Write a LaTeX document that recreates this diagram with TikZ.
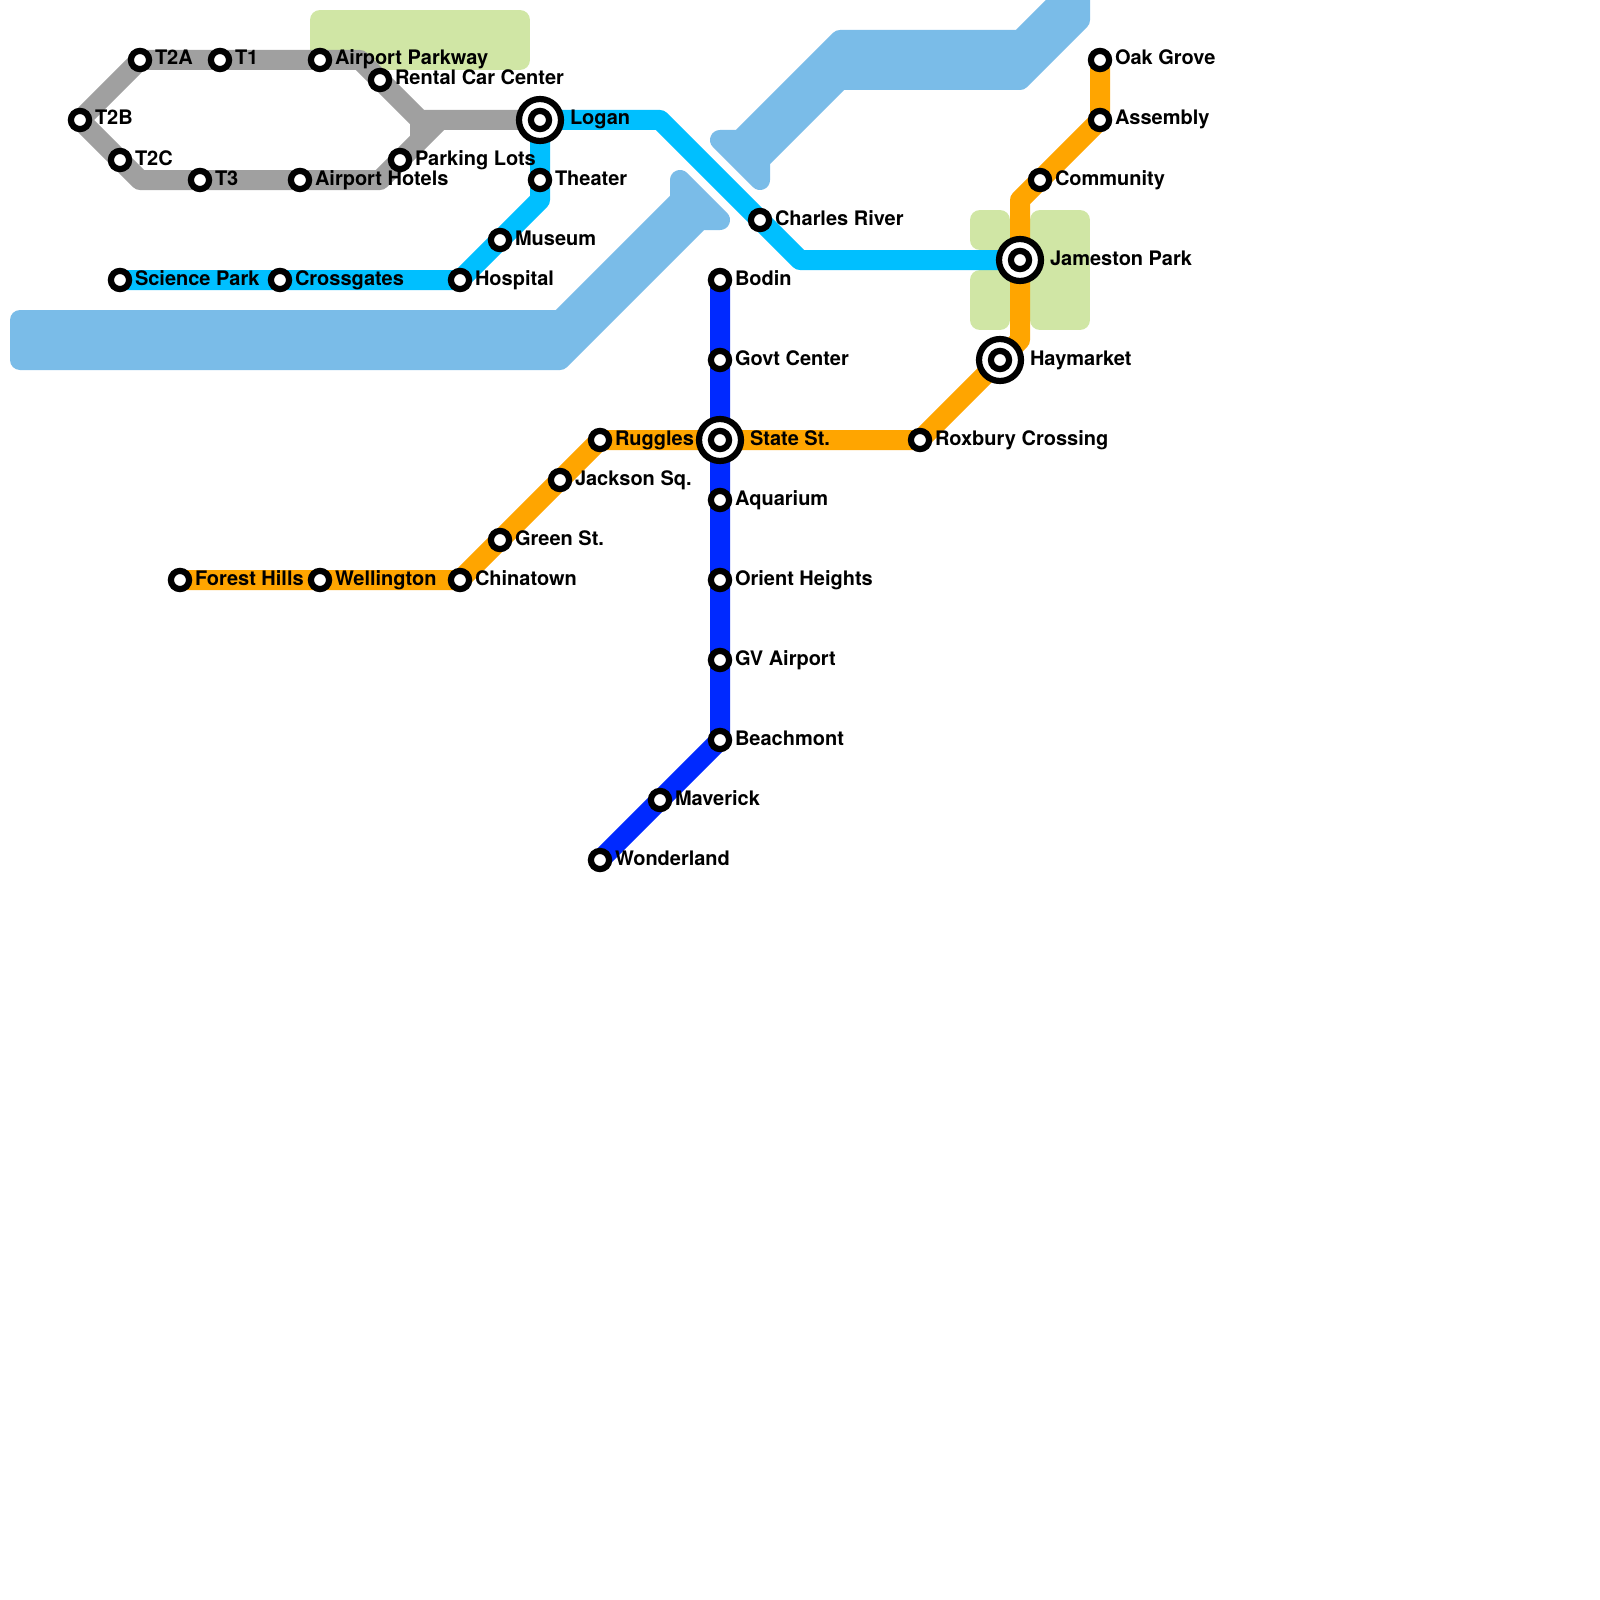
\documentclass[tikz,border=0pt]{standalone}
\usepackage{fontspec}
\setmainfont{TeX Gyre Heros}
\definecolor{waterc}{HTML}{7ABCE8}
\definecolor{parkc}{HTML}{D0E6A5}
\definecolor{grayl}{HTML}{A0A0A0}
\definecolor{cyanl}{HTML}{00BFFF}
\definecolor{orangel}{HTML}{FFA500}
\definecolor{bluel}{HTML}{0029FF}
\tikzset{
  water/.style={draw=waterc,fill=waterc,line width=10pt,line join=round},
  park/.style={draw=parkc,fill=parkc,line width=10pt,line join=round},
  route/.style={line width=10pt,line join=round,line cap=butt},
  stn/.style={circle,draw=black,fill=white,line width=3.1pt,minimum size=9.1pt,inner sep=0pt,outer sep=0pt},
  hub/.style={circle,draw=black,fill=white,line width=3.1pt,minimum size=21pt,inner sep=0pt,outer sep=0pt},
  lbl/.style={anchor=base west,inner sep=0pt,outer sep=0pt,xshift=7.5pt,yshift=-2.5pt,font=\fontsize{10}{12}\selectfont\bfseries},
  lblh/.style={lbl,xshift=7.5pt},
}
\begin{document}
\begin{tikzpicture}[x=0.5pt,y=-0.5pt]
\path[use as bounding box] (0,0) rectangle (1600,1600);
\clip (0,0) rectangle (1600,1600);
\fill[white] (0,0) rectangle (1600,1600);
% water
\draw[water] (20,320) -- (560,320) -- (680,200) -- (680,180) -- (720,220) -- (700,220) -- (560,360) -- (20,360) -- cycle;
\draw[water] (720,140) -- (740,140) -- (840,40) -- (1020,40) -- (1080,-20) -- (1080,20) -- (1020,80) -- (840,80) -- (760,160) -- (760,180) -- cycle;
% parks
\draw[park] (320,20) rectangle (520,60);
\draw[park] (980,220) rectangle (1000,240);
\draw[park] (980,280) rectangle (1000,320);
\draw[park] (1040,220) rectangle (1080,320);
% station positions and bends
\coordinate (pT2A) at (140,60);
\coordinate (pT1) at (220,60);
\coordinate (pParkway) at (320,60);
\coordinate (pRental) at (380,80);
\coordinate (pT2B) at (80,120);
\coordinate (pT2C) at (120,160);
\coordinate (pT3) at (200,180);
\coordinate (pHotels) at (300,180);
\coordinate (pLots) at (400,160);
\coordinate (pLogan) at (540,120);
\coordinate (pTheater) at (540,180);
\coordinate (pMuseum) at (500,240);
\coordinate (pHospital) at (460,280);
\coordinate (pCross) at (280,280);
\coordinate (pScience) at (120,280);
\coordinate (pCharles) at (760,220);
\coordinate (pJameston) at (1020,260);
\coordinate (pForest) at (180,580);
\coordinate (pWellington) at (320,580);
\coordinate (pChinatown) at (460,580);
\coordinate (pGreen) at (500,540);
\coordinate (pJackson) at (560,480);
\coordinate (pRuggles) at (600,440);
\coordinate (pState) at (720,440);
\coordinate (pRoxbury) at (920,440);
\coordinate (pHaymarket) at (1000,360);
\coordinate (pCommunity) at (1040,180);
\coordinate (pAssembly) at (1100,120);
\coordinate (pOak) at (1100,60);
\coordinate (pBodin) at (720,280);
\coordinate (pGovt) at (720,360);
\coordinate (pAquarium) at (720,500);
\coordinate (pOrient) at (720,580);
\coordinate (pGV) at (720,660);
\coordinate (pBeachmont) at (720,740);
\coordinate (pMaverick) at (660,800);
\coordinate (pWonderland) at (600,860);
\coordinate (bGa) at (360,60);
\coordinate (bGb) at (420,120);
\coordinate (bGc) at (420,140);
\coordinate (bGd) at (140,180);
\coordinate (bGe) at (380,180);
\coordinate (bGf) at (440,120);
\coordinate (bCa) at (660,120);
\coordinate (bCb) at (800,260);
\coordinate (bCc) at (540,200);
\coordinate (bOa) at (1020,340);
\coordinate (bOb) at (1020,200);
% routes
\draw[route,grayl] (pT2A) -- (bGa) -- (bGb) -- (pLogan);
\draw[route,grayl] (pT2A) -- (pT2B) -- (bGd) -- (bGe) -- (bGf);
\draw[route,grayl] (bGb) -- (bGc);
\draw[route,cyanl] (pLogan) -- (bCa) -- (bCb) -- (pJameston);
\draw[route,cyanl] (pLogan) -- (bCc) -- (pHospital) -- (pScience);
\draw[route,bluel] (pBodin) -- (pBeachmont) -- (pWonderland);
\draw[route,orangel] (pForest) -- (pChinatown) -- (pRuggles) -- (pRoxbury) -- (bOa) -- (bOb) -- (pAssembly) -- (pOak);
% stations
\node[stn] (T2A) at (pT2A) {};
\node[stn] (T1) at (pT1) {};
\node[stn] (Parkway) at (pParkway) {};
\node[stn] (Rental) at (pRental) {};
\node[stn] (T2B) at (pT2B) {};
\node[stn] (T2C) at (pT2C) {};
\node[stn] (T3) at (pT3) {};
\node[stn] (Hotels) at (pHotels) {};
\node[stn] (Lots) at (pLots) {};
\node[hub] (LoganO) at (pLogan) {};
\node[stn] (Logan) at (pLogan) {};
\node[stn] (Theater) at (pTheater) {};
\node[stn] (Museum) at (pMuseum) {};
\node[stn] (Hospital) at (pHospital) {};
\node[stn] (Cross) at (pCross) {};
\node[stn] (Science) at (pScience) {};
\node[stn] (Charles) at (pCharles) {};
\node[hub] (JamestonO) at (pJameston) {};
\node[stn] (Jameston) at (pJameston) {};
\node[stn] (Forest) at (pForest) {};
\node[stn] (Wellington) at (pWellington) {};
\node[stn] (Chinatown) at (pChinatown) {};
\node[stn] (Green) at (pGreen) {};
\node[stn] (Jackson) at (pJackson) {};
\node[stn] (Ruggles) at (pRuggles) {};
\node[hub] (StateO) at (pState) {};
\node[stn] (State) at (pState) {};
\node[stn] (Roxbury) at (pRoxbury) {};
\node[hub] (HaymarketO) at (pHaymarket) {};
\node[stn] (Haymarket) at (pHaymarket) {};
\node[stn] (Community) at (pCommunity) {};
\node[stn] (Assembly) at (pAssembly) {};
\node[stn] (Oak) at (pOak) {};
\node[stn] (Bodin) at (pBodin) {};
\node[stn] (Govt) at (pGovt) {};
\node[stn] (Aquarium) at (pAquarium) {};
\node[stn] (Orient) at (pOrient) {};
\node[stn] (GV) at (pGV) {};
\node[stn] (Beachmont) at (pBeachmont) {};
\node[stn] (Maverick) at (pMaverick) {};
\node[stn] (Wonderland) at (pWonderland) {};
% labels
\node[lbl] (tT2A) at (pT2A) {T2A};
\node[lbl] (tT1) at (pT1) {T1};
\node[lbl] (tParkway) at (pParkway) {Airport Parkway};
\node[lbl] (tRental) at (pRental) {Rental Car Center};
\node[lbl] (tT2B) at (pT2B) {T2B};
\node[lbl] (tT2C) at (pT2C) {T2C};
\node[lbl] (tT3) at (pT3) {T3};
\node[lbl] (tHotels) at (pHotels) {Airport Hotels};
\node[lbl] (tLots) at (pLots) {Parking Lots};
\node[lblh] (tLogan) at (pLogan) {Logan};
\node[lbl] (tTheater) at (pTheater) {Theater};
\node[lbl] (tMuseum) at (pMuseum) {Museum};
\node[lbl] (tHospital) at (pHospital) {Hospital};
\node[lbl] (tCross) at (pCross) {Crossgates};
\node[lbl] (tScience) at (pScience) {Science Park};
\node[lbl] (tCharles) at (pCharles) {Charles River};
\node[lblh] (tJameston) at (pJameston) {Jameston Park};
\node[lbl] (tForest) at (pForest) {Forest Hills};
\node[lbl] (tWellington) at (pWellington) {Wellington};
\node[lbl] (tChinatown) at (pChinatown) {Chinatown};
\node[lbl] (tGreen) at (pGreen) {Green St.};
\node[lbl] (tJackson) at (pJackson) {Jackson Sq.};
\node[lbl] (tRuggles) at (pRuggles) {Ruggles};
\node[lblh] (tState) at (pState) {State St.};
\node[lbl] (tRoxbury) at (pRoxbury) {Roxbury Crossing};
\node[lblh] (tHaymarket) at (pHaymarket) {Haymarket};
\node[lbl] (tCommunity) at (pCommunity) {Community};
\node[lbl] (tAssembly) at (pAssembly) {Assembly};
\node[lbl] (tOak) at (pOak) {Oak Grove};
\node[lbl] (tBodin) at (pBodin) {Bodin};
\node[lbl] (tGovt) at (pGovt) {Govt Center};
\node[lbl] (tAquarium) at (pAquarium) {Aquarium};
\node[lbl] (tOrient) at (pOrient) {Orient Heights};
\node[lbl] (tGV) at (pGV) {GV Airport};
\node[lbl] (tBeachmont) at (pBeachmont) {Beachmont};
\node[lbl] (tMaverick) at (pMaverick) {Maverick};
\node[lbl] (tWonderland) at (pWonderland) {Wonderland};
\end{tikzpicture}
\end{document}
